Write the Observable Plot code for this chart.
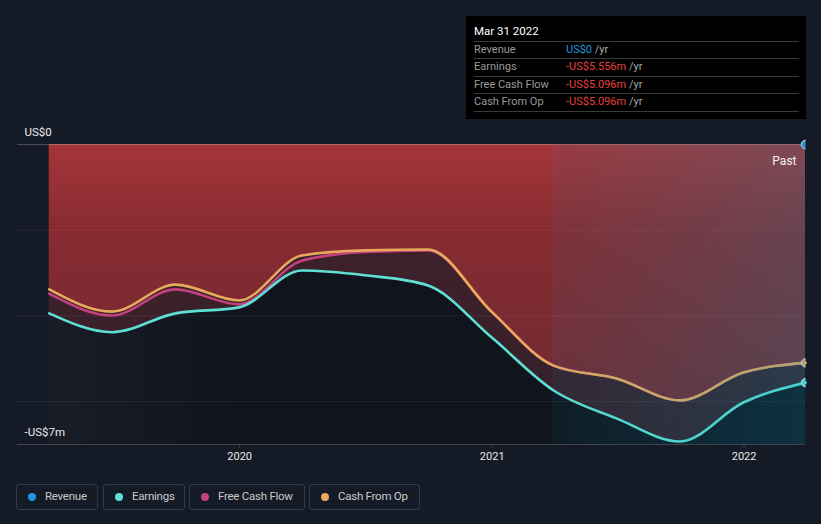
<!DOCTYPE html>
<html>
<head>
<meta charset="utf-8">
<script src="https://cdn.jsdelivr.net/npm/d3@7"></script>
<script src="https://cdn.jsdelivr.net/npm/@observablehq/plot@0.6"></script>
<style>
  html, body { margin: 0; padding: 0; background: #151b26; }
  #wrap { position: relative; width: 821px; height: 524px; overflow: hidden; font-family: Roboto, "Noto Sans", sans-serif; }
  #chart { position: absolute; left: 0; top: 0; }
  #tip { position: absolute; left: 466px; top: 16px; width: 340px; height: 103px; background: #000; }
  #tip .title { position: absolute; left: 8px; top: 7px; font-size: 11.5px; color: #fff; line-height: 16px; }
  #tip .row { position: absolute; left: 8px; width: 325px; height: 17px; border-top: 1px solid #3a3a3a; font-size: 11px; line-height: 15.5px; }
  #tip .row.last { height: 0; }
  #tip .lab { position: absolute; left: 0; color: #9a9a9a; }
  #tip .val { position: absolute; left: 92px; }
  #tip .unit { color: #a8a8a8; }
  .leg { position: absolute; top: 484px; height: 26px; border: 1px solid #363c47; border-radius: 3px; box-sizing: border-box; }
  .leg .dot { position: absolute; left: 11px; top: 8px; width: 8px; height: 8px; border-radius: 50%; }
  .leg .txt { position: absolute; left: 28px; top: 0; line-height: 23px; font-size: 11.5px; letter-spacing: -0.25px; color: #c9c9c9; white-space: nowrap; }
</style>
</head>
<body>
<div id="wrap">
  <div id="chart"></div>
  <div id="tip"></div>
  <div id="legend"></div>
</div>
<script>
// ---- data ----
const dates = ["2019-03-31","2019-06-30","2019-09-30","2019-12-31","2020-03-31","2020-06-30","2020-09-30","2020-12-31","2021-03-31","2021-06-30","2021-09-30","2021-12-31","2022-03-31"];
const revenue = [0,0,0,0,0,0,0,0,0,0,0,0,0];
const earnings = [-3.94,-4.38,-3.94,-3.80,-2.94,-3.05,-3.29,-4.50,-5.74,-6.39,-6.93,-6.02,-5.556];
const freeCashFlow = [-3.48,-3.99,-3.38,-3.73,-2.71,-2.51,-2.47,-3.90,-5.16,-5.46,-5.97,-5.32,-5.096];
const cashFromOp = [-3.38,-3.90,-3.27,-3.64,-2.59,-2.47,-2.45,-3.90,-5.16,-5.46,-5.97,-5.32,-5.096];
const xDomain = ["2019-02-13","2022-03-31"];
const xTicks = ["2020-01-01","2021-01-01","2022-01-01"];
const xTickLabels = ["2020","2021","2022"];
const yLabelValues = [0, -7];
const yLabels = ["US$0", "-US$7m"];
const gridValues = [-2, -4, -6];
const pastStart = "2021-03-31";
const seriesNames = ["Revenue","Earnings","Free Cash Flow","Cash From Op"];
const seriesColors = ["#2394df","#5fe0d4","#c2417e","#e8a95c"];
const tipTitle = "Mar 31 2022";
const tipValues = ["US$0","-US$5.556m","-US$5.096m","-US$5.096m"];
const tipUnit = " /yr";

// ---- table ----
const data = dates.map((d, i) => ({
  date: new Date(d), revenue: revenue[i], earnings: earnings[i], fcf: freeCashFlow[i], cfo: cashFromOp[i]
}));
const last = data[data.length - 1];
const tickDates = xTicks.map(d => new Date(d));
const tickLabelOf = d => xTickLabels[tickDates.findIndex(t => +t === +d)];
const yLab = yLabelValues.map((v, i) => ({v, label: yLabels[i]}));
const curve = "monotone-x";

const plot = Plot.plot({
  width: 821, height: 524,
  marginTop: 144, marginBottom: 80, marginLeft: 17, marginRight: 16,
  x: {type: "utc", domain: xDomain.map(d => new Date(d)), axis: null},
  y: {domain: [-7, 0], axis: null},
  style: {background: "transparent", fontFamily: "Roboto, sans-serif", overflow: "visible"},
  marks: [
    Plot.areaY(data, {x: "date", y1: "earnings", y2: -7, fill: "url(#gBase)", curve}),
    Plot.areaY(data, {x: "date", y1: 0, y2: "cfo", fill: "url(#gRed)", curve}),
    Plot.areaY(data, {x: "date", y1: "cfo", y2: "earnings", fill: "url(#gRed)", fillOpacity: 0.36, curve}),
    Plot.ruleY(gridValues, {stroke: "#ffffff", strokeOpacity: 0.07}),
    Plot.ruleY([0], {stroke: "#ffffff", strokeOpacity: 0.22}),
    Plot.lineY(data, {x: "date", y: "fcf", stroke: seriesColors[2], strokeWidth: 2.6, curve}),
    Plot.lineY(data, {x: "date", y: "cfo", stroke: seriesColors[3], strokeWidth: 2.6, curve}),
    Plot.lineY(data, {x: "date", y: "earnings", stroke: seriesColors[1], strokeWidth: 2.6, curve}),
    Plot.dot([last], {x: "date", y: "revenue", r: 4.2, fill: seriesColors[0], stroke: "#dfe8f0", strokeWidth: 1}),
    Plot.dot([last], {x: "date", y: "cfo", r: 4.2, fill: "#d9ad63", stroke: "#e8e8e8", strokeWidth: 1}),
    Plot.dot([last], {x: "date", y: "earnings", r: 4.2, fill: seriesColors[1], stroke: "#dff", strokeWidth: 1}),
    Plot.rect([{a: new Date(pastStart), b: last.date}], {x1: "a", x2: "b", y1: -7, y2: 0, fill: "url(#gPast)"}),
    Plot.ruleX([new Date(pastStart)], {y1: -7, y2: 0, stroke: "#ffffff", strokeOpacity: 0.05}),
    Plot.ruleY([-7], {stroke: "#3d424c", strokeWidth: 1.2}),
    Plot.axisX({ticks: tickDates, tickFormat: tickLabelOf, tickSize: 4, tickPadding: 4, stroke: "#3d424c", fill: "#e8e8e8", fontSize: 11}),
    Plot.text(yLab, {y: "v", text: "label", frameAnchor: "left", textAnchor: "start", dx: 7, dy: -12, fill: "#ececec", fontSize: 11.5}),
    Plot.text(["Past"], {frameAnchor: "top-right", textAnchor: "end", dx: -9, dy: 12, fill: "#f2f2f2", fontSize: 12, text: d => d})
  ]
});

// gradients
const xs = plot.scale("x"), ys = plot.scale("y");
const y0 = ys.apply(0), y7 = ys.apply(-7);
const xStart = xs.apply(data[0].date), xEnd = xs.apply(last.date);
const ns = "http://www.w3.org/2000/svg";
const defs = document.createElementNS(ns, "defs");
defs.innerHTML = `
  <linearGradient id="gRed" gradientUnits="userSpaceOnUse" x1="0" y1="${y0}" x2="0" y2="${y7}">
    <stop offset="0" stop-color="#a43539"/>
    <stop offset="0.3" stop-color="#872b31"/>
    <stop offset="1" stop-color="#6a2a32"/>
  </linearGradient>
  <linearGradient id="gBase" gradientUnits="userSpaceOnUse" x1="${xStart}" y1="0" x2="${xEnd}" y2="0">
    <stop offset="0" stop-color="#181d28"/>
    <stop offset="0.25" stop-color="#10141c"/>
    <stop offset="1" stop-color="#10151d"/>
  </linearGradient>
  <linearGradient id="gPast" x1="0" y1="0" x2="1" y2="0">
    <stop offset="0" stop-color="rgb(0,145,182)" stop-opacity="0.07"/>
    <stop offset="1" stop-color="rgb(0,145,182)" stop-opacity="0.23"/>
  </linearGradient>
  <clipPath id="cRight"><rect x="0" y="0" width="${xs.range[1]}" height="524"/></clipPath>`;
plot.insertBefore(defs, plot.firstChild);
plot.querySelectorAll('g[aria-label="dot"]').forEach(g => g.setAttribute("clip-path", "url(#cRight)"));
document.getElementById("chart").appendChild(plot);

// tooltip
const tip = document.getElementById("tip");
let html = `<div class="title">${tipTitle}</div>`;
const rowTops = [25, 42.3, 60, 77.3];
seriesNames.forEach((name, i) => {
  const col = tipValues[i].startsWith("-") ? "#e5403f" : "#2394df";
  html += `<div class="row" style="top:${rowTops[i]}px"><span class="lab">${name}</span><span class="val"><span style="color:${col}">${tipValues[i]}</span><span class="unit">${tipUnit}</span></span></div>`;
});
html += `<div class="row last" style="top:95px"></div>`;
tip.innerHTML = html;

// legend
const legLefts = [16, 103, 189, 309], legWidths = [82, 82, 116, 111];
document.getElementById("legend").innerHTML = seriesNames.map((n, i) =>
  `<div class="leg" style="left:${legLefts[i]}px;width:${legWidths[i]}px"><span class="dot" style="background:${seriesColors[i]}"></span><span class="txt">${n}</span></div>`
).join("");
</script>
</body>
</html>
